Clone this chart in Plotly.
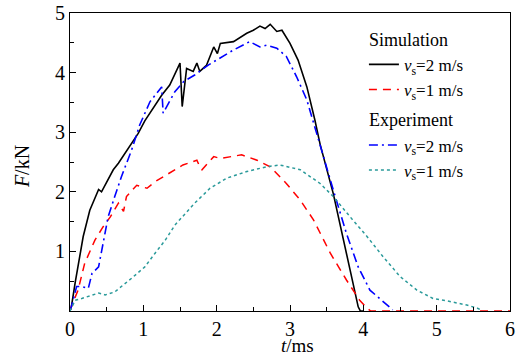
import plotly.graph_objects as go

# Simulation, v_s = 2 m/s
sim2_t = [0, 0.02, 0.07, 0.11, 0.18, 0.27, 0.34, 0.39, 0.43, 0.5, 0.59, 0.66, 0.75, 0.93, 1.02, 1.25, 1.36,
          1.5, 1.53, 1.59, 1.68, 1.73, 1.77, 1.86, 1.96, 2.01, 2.05, 2.23, 2.41, 2.5, 2.59, 2.66, 2.73,
          2.82, 2.89, 3.0, 3.11, 3.23, 3.34, 3.41, 3.59, 3.73, 3.84, 3.93, 3.96, 4.0]
sim2_F = [0, 0.08, 0.47, 0.74, 1.25, 1.69, 1.9, 2.04, 2.0, 2.17, 2.37, 2.48, 2.65, 2.98, 3.19, 3.62, 3.79,
          4.16, 3.43, 4.07, 4.02, 4.16, 4.02, 4.12, 4.43, 4.32, 4.49, 4.52, 4.66, 4.71, 4.78, 4.74, 4.81,
          4.69, 4.71, 4.49, 4.21, 3.76, 3.2, 2.8, 1.97, 1.19, 0.52, 0.07, 0, 0]

# Simulation, v_s = 1 m/s
sim1_t = [0, 0.02, 0.11, 0.2, 0.34, 0.45, 0.55, 0.66, 0.73, 0.77, 0.91, 1.05, 1.16, 1.36, 1.54, 1.73, 1.77,
          1.8, 1.96, 2.05, 2.34, 2.55, 2.73, 2.95, 3.14, 3.32, 3.55, 3.77, 3.95, 4.05, 4.1, 5.0, 6.0]
sim1_F = [0, 0.08, 0.35, 0.8, 1.19, 1.41, 1.58, 1.81, 1.67, 1.92, 2.11, 2.06, 2.17, 2.31, 2.45, 2.53, 2.42,
          2.37, 2.59, 2.56, 2.62, 2.53, 2.42, 2.14, 1.86, 1.53, 0.97, 0.52, 0.18, 0.05, 0, 0, 0]

# Experiment, v_s = 2 m/s
exp2_t = [0, 0.02, 0.09, 0.16, 0.25, 0.3, 0.39, 0.45, 0.52, 0.61, 0.7, 0.84, 0.95, 1.09, 1.25, 1.27, 1.43,
          1.55, 1.7, 1.89, 2.07, 2.23, 2.45, 2.59, 2.68, 2.82, 2.95, 3.09, 3.23, 3.36, 3.43, 3.59, 3.77,
          3.93, 4.09, 4.27, 4.36, 4.4]
exp2_F = [0, 0.08, 0.41, 0.41, 0.38, 0.63, 0.74, 1.13, 1.58, 1.92, 2.25, 2.7, 3.12, 3.51, 3.76, 3.32, 3.68,
          3.85, 3.96, 4.13, 4.27, 4.38, 4.52, 4.43, 4.46, 4.41, 4.27, 3.93, 3.54, 2.98, 2.7, 2.03, 1.3,
          0.74, 0.35, 0.16, 0.07, 0.02]

# Experiment, v_s = 1 m/s
exp1_t = [0, 0.07, 0.16, 0.3, 0.39, 0.48, 0.61, 0.84, 1.02, 1.16, 1.3, 1.43, 1.57, 1.7, 1.91, 2.14, 2.41,
          2.68, 2.86, 3.14, 3.41, 3.59, 3.82, 4.05, 4.27, 4.5, 4.73, 4.95, 5.18, 5.41, 5.55, 5.6]
exp1_F = [0, 0.18, 0.21, 0.27, 0.3, 0.27, 0.32, 0.55, 0.74, 0.97, 1.19, 1.44, 1.64, 1.81, 2.06, 2.23, 2.34,
          2.42, 2.45, 2.37, 2.14, 1.92, 1.58, 1.25, 0.91, 0.58, 0.35, 0.21, 0.16, 0.1, 0.05, 0.02]

x_ticks = [0, 1, 2, 3, 4, 5, 6]
y_ticks = [1, 2, 3, 4, 5]

FONT = "Times New Roman, Liberation Serif, serif"

fig = go.Figure()
fig.add_trace(go.Scatter(x=sim2_t, y=sim2_F, mode="lines", name="<i>v</i><sub>s</sub>=2 m/s",
                         line=dict(color="black", width=1.6, dash="solid"),
                         legendgroup="sim", legendgrouptitle_text="Simulation"))
fig.add_trace(go.Scatter(x=sim1_t, y=sim1_F, mode="lines", name="<i>v</i><sub>s</sub>=1 m/s",
                         line=dict(color="#ff0000", width=1.5, dash="8px,6px"),
                         legendgroup="sim"))
fig.add_trace(go.Scatter(x=exp2_t, y=exp2_F, mode="lines", name="<i>v</i><sub>s</sub>=2 m/s",
                         line=dict(color="#0000ff", width=1.6, dash="9px,4px,2px,4px"),
                         legendgroup="exp", legendgrouptitle_text="Experiment"))
fig.add_trace(go.Scatter(x=exp1_t, y=exp1_F, mode="lines", name="<i>v</i><sub>s</sub>=1 m/s",
                         line=dict(color="#2a9a9a", width=1.5, dash="dot"),
                         legendgroup="exp"))

axis_common = dict(showgrid=False, zeroline=False, showline=True, linecolor="black", linewidth=1.2,
                   mirror=True, ticks="inside", ticklen=6, tickcolor="black", tickwidth=1,
                   automargin=False,
                   tickfont=dict(family=FONT, size=20, color="black"),
                   minor=dict(ticks="inside", ticklen=4, tickcolor="black", dtick=0.5, tickwidth=1))

fig.update_xaxes(range=[0, 6], tickvals=x_ticks, **axis_common)
fig.update_yaxes(range=[0, 5], tickvals=y_ticks, **axis_common)

fig.add_annotation(text="<i>t</i>/ms", xref="paper", yref="paper", x=0.516, y=-0.117,
                   xanchor="center", yanchor="middle", showarrow=False,
                   font=dict(family=FONT, size=19, color="black"))
fig.add_annotation(text="<i>F</i>/kN", xref="paper", yref="paper", x=-0.109, y=0.483,
                   xanchor="center", yanchor="middle", showarrow=False, textangle=-90,
                   font=dict(family=FONT, size=20, color="black"))

fig.update_layout(
    width=527, height=358,
    margin=dict(l=70, r=17, t=13, b=47),
    plot_bgcolor="white", paper_bgcolor="white",
    showlegend=True,
    legend=dict(x=0.668, y=0.975, xanchor="left", yanchor="top",
                font=dict(family=FONT, size=17, color="black"),
                grouptitlefont=dict(family=FONT, size=18, color="black"),
                bgcolor="rgba(0,0,0,0)", tracegroupgap=4, itemwidth=30,
                groupclick="toggleitem"),
)

fig.write_html("out.html", config={"displayModeBar": False},
               post_script="document.body.style.margin='0';document.body.style.padding='0';")
